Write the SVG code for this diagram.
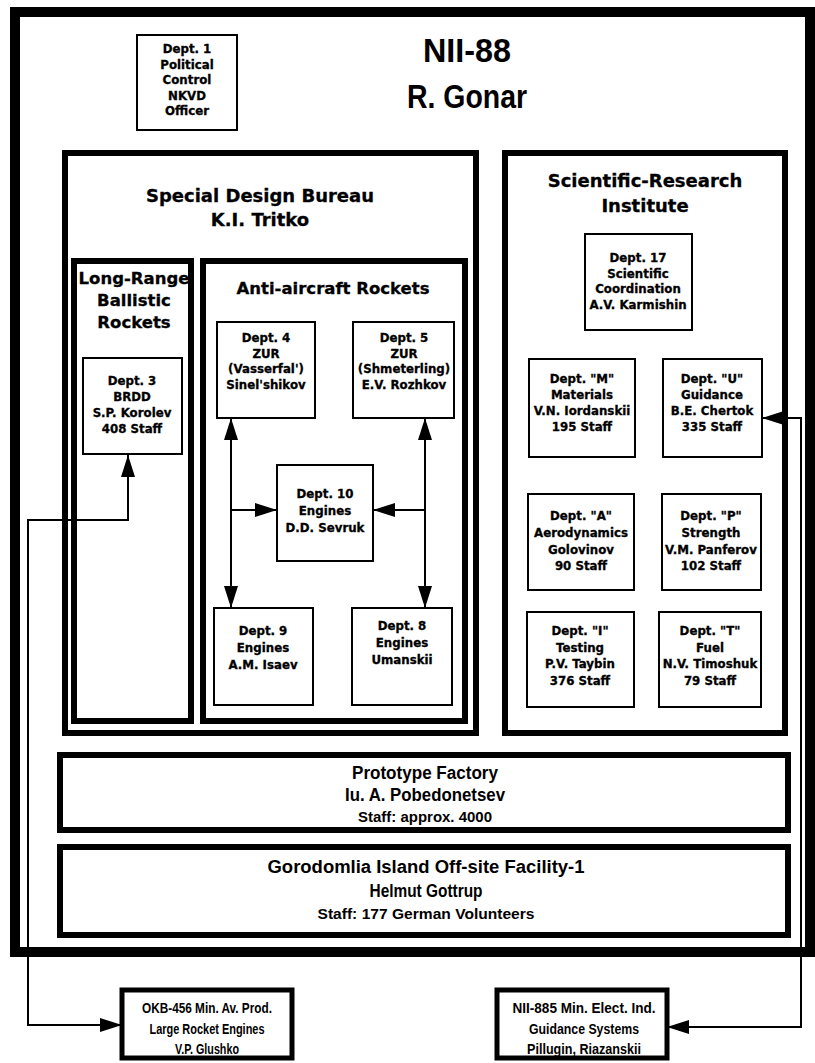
<svg xmlns="http://www.w3.org/2000/svg" width="815" height="1063" viewBox="0 0 815 1063">
<style>
.thin{fill:#fff;stroke:#000;stroke-width:2}
.thick{fill:#fff;stroke:#000;stroke-width:6}
.heavy{fill:none;stroke:#000;stroke-width:10}
.bx{fill:#fff;stroke:#000;stroke-width:5}
.t{font-family:"DejaVu Sans",sans-serif;font-weight:bold;font-size:11.8px;text-anchor:middle;fill:#000;stroke:#000;stroke-width:0.3}
.h{font-family:"DejaVu Sans",sans-serif;font-weight:bold;font-size:18px;text-anchor:middle;fill:#000;stroke:#000;stroke-width:0.3}
.h2{font-family:"DejaVu Sans",sans-serif;font-weight:bold;font-size:16.5px;text-anchor:middle;fill:#000;stroke:#000;stroke-width:0.3}
.n{font-family:"Liberation Sans",Arial,sans-serif;font-weight:bold;text-anchor:middle;fill:#000}
.c{fill:none;stroke:#000;stroke-width:2}
</style>
<defs>
<marker id="ah" markerUnits="userSpaceOnUse" markerWidth="22" markerHeight="14" refX="22" refY="7" orient="auto-start-reverse">
<path d="M0,0 L22,7 L0,14 z" fill="#000"/>
</marker>
</defs>
<rect x="0" y="0" width="815" height="1063" fill="#fff"/>
<g id="nii88">
<rect class="heavy" x="15" y="12" width="795" height="940"/>
<text class="n" x="467" y="62" font-size="33" textLength="88" lengthAdjust="spacingAndGlyphs">NII-88</text>
<text class="n" x="467" y="108" font-size="34" textLength="120" lengthAdjust="spacingAndGlyphs">R. Gonar</text>
</g>
<g id="dept1">
<rect class="thin" x="137" y="35" width="100" height="95"/>
<text class="t" x="187" y="53">Dept. 1</text>
<text class="t" x="187" y="68.5">Political</text>
<text class="t" x="187" y="84">Control</text>
<text class="t" x="187" y="99.5">NKVD</text>
<text class="t" x="187" y="115">Officer</text>
</g>
<g id="sdb">
<rect class="thick" x="65" y="153" width="411" height="580"/>
<text class="h" x="260" y="202">Special Design Bureau</text>
<text class="h" x="260" y="226">K.I. Tritko</text>
</g>
<g id="longrange">
<rect class="thick" x="74" y="261" width="117" height="460"/>
<text class="h2" x="134" y="284">Long-Range</text>
<text class="h2" x="134" y="306">Ballistic</text>
<text class="h2" x="134" y="328">Rockets</text>
</g>
<g id="antiaircraft">
<rect class="thick" x="203" y="261" width="262" height="460"/>
<text class="h2" x="333" y="294">Anti-aircraft Rockets</text>
</g>
<g id="dept3">
<rect class="thin" x="83" y="358" width="99" height="96"/>
<text class="t" x="132" y="385">Dept. 3</text>
<text class="t" x="132" y="401">BRDD</text>
<text class="t" x="132" y="417">S.P. Korolev</text>
<text class="t" x="132" y="433">408 Staff</text>
</g>
<g id="dept4">
<rect class="thin" x="217" y="322" width="98" height="96"/>
<text class="t" x="266" y="342">Dept. 4</text>
<text class="t" x="266" y="357.5">ZUR</text>
<text class="t" x="266" y="373">(Vasserfal')</text>
<text class="t" x="266" y="388.5">Sinel'shikov</text>
</g>
<g id="dept5">
<rect class="thin" x="353" y="322" width="101" height="96"/>
<text class="t" x="404" y="342">Dept. 5</text>
<text class="t" x="404" y="357.5">ZUR</text>
<text class="t" x="404" y="373">(Shmeterling)</text>
<text class="t" x="404" y="388.5">E.V. Rozhkov</text>
</g>
<g id="dept10">
<rect class="thin" x="277" y="465" width="96" height="96"/>
<text class="t" x="325" y="498">Dept. 10</text>
<text class="t" x="325" y="515">Engines</text>
<text class="t" x="325" y="532">D.D. Sevruk</text>
</g>
<g id="dept9">
<rect class="thin" x="214" y="608" width="99" height="97"/>
<text class="t" x="263" y="635">Dept. 9</text>
<text class="t" x="263" y="652">Engines</text>
<text class="t" x="263" y="669">A.M. Isaev</text>
</g>
<g id="dept8">
<rect class="thin" x="352" y="608" width="100" height="97"/>
<text class="t" x="402" y="630">Dept. 8</text>
<text class="t" x="402" y="647">Engines</text>
<text class="t" x="402" y="664">Umanskii</text>
</g>
<g id="sri">
<rect class="thick" x="505" y="153" width="280" height="580"/>
<text class="h" x="645" y="187">Scientific-Research</text>
<text class="h" x="645" y="212">Institute</text>
</g>
<g id="dept17">
<rect class="thin" x="585" y="234" width="107" height="96"/>
<text class="t" x="638" y="262">Dept. 17</text>
<text class="t" x="638" y="277.5">Scientific</text>
<text class="t" x="638" y="293">Coordination</text>
<text class="t" x="638" y="308.5">A.V. Karmishin</text>
</g>
<g id="deptM">
<rect class="thin" x="529" y="359" width="106" height="98"/>
<text class="t" x="582" y="383">Dept. "M"</text>
<text class="t" x="582" y="399">Materials</text>
<text class="t" x="582" y="415">V.N. Iordanskii</text>
<text class="t" x="582" y="431">195 Staff</text>
</g>
<g id="deptU">
<rect class="thin" x="663" y="359" width="99" height="98"/>
<text class="t" x="712" y="383">Dept. "U"</text>
<text class="t" x="712" y="399">Guidance</text>
<text class="t" x="712" y="415">B.E. Chertok</text>
<text class="t" x="712" y="431">335 Staff</text>
</g>
<g id="deptA">
<rect class="thin" x="528" y="494" width="106" height="96"/>
<text class="t" x="581" y="520">Dept. "A"</text>
<text class="t" x="581" y="537">Aerodynamics</text>
<text class="t" x="581" y="554">Golovinov</text>
<text class="t" x="581" y="570">90 Staff</text>
</g>
<g id="deptP">
<rect class="thin" x="662" y="494" width="99" height="96"/>
<text class="t" x="711" y="520">Dept. "P"</text>
<text class="t" x="711" y="537">Strength</text>
<text class="t" x="711" y="554">V.M. Panferov</text>
<text class="t" x="711" y="570">102 Staff</text>
</g>
<g id="deptI">
<rect class="thin" x="527" y="612" width="107" height="95"/>
<text class="t" x="580" y="635">Dept. "I"</text>
<text class="t" x="580" y="652">Testing</text>
<text class="t" x="580" y="668">P.V. Taybin</text>
<text class="t" x="580" y="685">376 Staff</text>
</g>
<g id="deptT">
<rect class="thin" x="659" y="612" width="102" height="95"/>
<text class="t" x="710" y="635">Dept. "T"</text>
<text class="t" x="710" y="652">Fuel</text>
<text class="t" x="710" y="668">N.V. Timoshuk</text>
<text class="t" x="710" y="685">79 Staff</text>
</g>
<g id="prototype">
<rect class="thick" x="60" y="755" width="728" height="75"/>
<text class="n" x="425" y="779" font-size="18" textLength="146" lengthAdjust="spacingAndGlyphs">Prototype Factory</text>
<text class="n" x="425" y="801" font-size="18" textLength="160" lengthAdjust="spacingAndGlyphs">Iu. A. Pobedonetsev</text>
<text class="n" x="425" y="822" font-size="15" textLength="134" lengthAdjust="spacingAndGlyphs">Staff: approx. 4000</text>
</g>
<g id="gorodomlia">
<rect class="thick" x="60" y="847" width="728" height="88"/>
<text class="n" x="426" y="873" font-size="18" textLength="317" lengthAdjust="spacingAndGlyphs">Gorodomlia Island Off-site Facility-1</text>
<text class="n" x="426" y="897" font-size="18" textLength="113" lengthAdjust="spacingAndGlyphs">Helmut Gottrup</text>
<text class="n" x="426" y="919" font-size="15" textLength="217" lengthAdjust="spacingAndGlyphs">Staff: 177 German Volunteers</text>
</g>
<g id="okb456">
<rect class="bx" x="122" y="990" width="170" height="68"/>
<text class="n" x="207" y="1013" font-size="15" textLength="130" lengthAdjust="spacingAndGlyphs">OKB-456 Min. Av. Prod.</text>
<text class="n" x="207" y="1034" font-size="15" textLength="115" lengthAdjust="spacingAndGlyphs">Large Rocket Engines</text>
<text class="n" x="207" y="1054" font-size="15" textLength="64" lengthAdjust="spacingAndGlyphs">V.P. Glushko</text>
</g>
<g id="nii885">
<rect class="bx" x="497" y="990" width="170" height="68"/>
<text class="n" x="584" y="1013" font-size="15" textLength="143" lengthAdjust="spacingAndGlyphs">NII-885 Min. Elect. Ind.</text>
<text class="n" x="584" y="1034" font-size="15" textLength="110" lengthAdjust="spacingAndGlyphs">Guidance Systems</text>
<text class="n" x="584" y="1054" font-size="15" textLength="114" lengthAdjust="spacingAndGlyphs">Pillugin, Riazanskii</text>
</g>
<g id="connectors">
<path class="c" d="M128,455 V520 H28 V1025 H122" marker-start="url(#ah)" marker-end="url(#ah)"/>
<path class="c" d="M762,418 H801 V1027 H667" marker-start="url(#ah)" marker-end="url(#ah)"/>
<path class="c" d="M231,418 V608" marker-start="url(#ah)" marker-end="url(#ah)"/>
<path class="c" d="M425,418 V608" marker-start="url(#ah)" marker-end="url(#ah)"/>
<path class="c" d="M231,510 H277" marker-end="url(#ah)"/>
<path class="c" d="M425,510 H373" marker-end="url(#ah)"/>
</g>
</svg>
